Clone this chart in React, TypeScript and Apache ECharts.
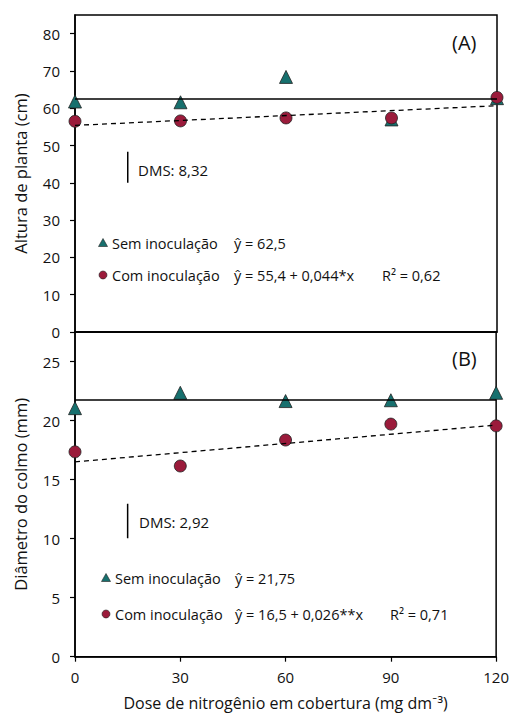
import React, { useEffect, useRef } from "react";
import * as echarts from "echarts";

const doses = [0, 30, 60, 90, 120];
const alturaSem = [61.8, 61.6, 68.4, 57.0, 62.7];
const alturaCom = [56.5, 56.6, 57.4, 57.4, 62.9];
const diamSem = [21.05, 22.35, 21.65, 21.72, 22.35];
const diamCom = [17.35, 16.15, 18.35, 19.7, 19.55];
const alturaFitSem = 62.5;
const alturaFitCom = [55.4, 0.044];
const diamFitSem = 21.75;
const diamFitCom = [16.5, 0.026];
const alturaDMS = 8.32;
const diamDMS = 2.92;
const alturaTicks = [0, 10, 20, 30, 40, 50, 60, 70, 80];
const diamTicks = [0, 5, 10, 15, 20, 25];

const TEAL = "#17706e";
const RED = "#9b1b3b";
const FONT = "'Open Sans', Lato, sans-serif";

export default function App() {
  const ref = useRef<HTMLDivElement>(null);
  useEffect(() => {
    document.body.style.margin = "0";
    document.body.style.overflow = "hidden";
    if (!ref.current) return;
    const chart = echarts.init(ref.current, undefined, { renderer: "svg" });
    const L = 75, W = 422;
    const grids = [
      { left: L, top: 15, width: W, height: 317, show: true, borderColor: "#000", borderWidth: 1.5 },
      { left: L, top: 332, width: W, height: 324.7, show: true, borderColor: "#000", borderWidth: 1.5 },
    ];
    const xAxisBase = {
      type: "value", min: 0, max: 120, interval: 30,
      splitLine: { show: false },
      axisLine: { show: true, onZero: false, lineStyle: { color: "#000", width: 1.5 } },
    };
    const yAxisBase = (max: number, ticks: number[], name: string) => ({
      type: "value", min: 0, max,
      name, nameLocation: "middle", nameGap: 46, nameRotate: 90,
      nameTextStyle: { fontSize: 16.5, color: "#111", fontFamily: FONT },
      splitLine: { show: false },
      axisLine: { show: true, onZero: false, lineStyle: { color: "#000", width: 1.5 } },
      axisTick: { show: true, length: 5, customValues: ticks, lineStyle: { color: "#000", width: 1.2 } },
      axisLabel: { customValues: ticks, fontSize: 15, color: "#111", fontFamily: FONT, margin: 15 },
    });
    const fitLine = (c: number[]) => [[0, c[0]], [120, c[0] + c[1] * 120]];
    const flat = (v: number) => [[0, v], [120, v]];
    const scatter = (data: number[], idx: number, sym: string, color: string, z: number) => ({
      type: "scatter", xAxisIndex: idx, yAxisIndex: idx,
      data: doses.map((d, i) => [d, data[i]]),
      symbol: sym, symbolSize: sym === "triangle" ? 13 : 12,
      itemStyle: { color, opacity: 1, borderColor: "#222", borderWidth: 0.8 }, z,
    });
    const line = (data: number[][], idx: number, dashed: boolean, z: number) => ({
      type: "line", xAxisIndex: idx, yAxisIndex: idx, data, showSymbol: false, symbol: "none",
      lineStyle: { color: "#000", width: dashed ? 1.3 : 1.5, type: dashed ? [5, 4] : "solid" }, z,
    });
    const dmsLine = (center: number, dms: number, idx: number) => ({
      type: "line", xAxisIndex: idx, yAxisIndex: idx, symbol: "none",
      data: [[15, center - dms / 2], [15, center + dms / 2]],
      lineStyle: { color: "#000", width: 1.5 }, z: 5,
    });
    const txt = (x: number, y: number, t: string, size = 14.5) => ({
      type: "text", x, y,
      style: { text: t, fontSize: size, fill: "#111", fontFamily: FONT, textVerticalAlign: "middle" },
    });
    const tri = (x: number, y: number) => ({
      type: "polygon", shape: { points: [[x, y - 4.5], [x + 4.5, y + 3.5], [x - 4.5, y + 3.5]] },
      style: { fill: TEAL, stroke: "#222", lineWidth: 0.6 },
    });
    const circ = (x: number, y: number) => ({
      type: "circle", shape: { cx: x, cy: y, r: 4 },
      style: { fill: RED, stroke: "#222", lineWidth: 0.6 },
    });
    chart.setOption({
      animation: false,
      grid: grids,
      xAxis: [
        { ...xAxisBase, gridIndex: 0, axisTick: { show: false }, axisLabel: { show: false } },
        {
          ...xAxisBase, gridIndex: 1,
          name: "Dose de nitrogênio em cobertura (mg dm⁻³)", nameLocation: "middle", nameGap: 38,
          nameTextStyle: { fontSize: 16, color: "#111", fontFamily: FONT },
          axisTick: { show: true, length: 5, lineStyle: { color: "#000", width: 1.2 } },
          axisLabel: { fontSize: 15, color: "#111", fontFamily: FONT, margin: 13 },
        },
      ],
      yAxis: [
        { ...yAxisBase(85, alturaTicks, "Altura de planta (cm)"), gridIndex: 0 },
        { ...yAxisBase(27.5, diamTicks, "Diâmetro do colmo (mm)"), gridIndex: 1 },
      ],
      series: [
        scatter(alturaSem, 0, "triangle", TEAL, 2),
        scatter(alturaCom, 0, "circle", RED, 3),
        line(flat(alturaFitSem), 0, false, 4),
        line(fitLine(alturaFitCom), 0, true, 4),
        dmsLine(44.16, alturaDMS, 0),
        scatter(diamSem, 1, "triangle", TEAL, 2),
        scatter(diamCom, 1, "circle", RED, 3),
        line(flat(diamFitSem), 1, false, 4),
        line(fitLine(diamFitCom), 1, true, 4),
        dmsLine(11.5, diamDMS, 1),
      ],
      graphic: [
        txt(452, 42, "(A)", 20),
        txt(452, 358, "(B)", 20),
        txt(138, 170, "DMS: 8,32", 15),
        txt(139, 522, "DMS: 2,92", 15),
        tri(103, 243), txt(112, 243, "Sem inoculação"), txt(234, 243, "ŷ = 62,5"),
        circ(103, 275), txt(112, 275, "Com inoculação"), txt(234, 275, "ŷ = 55,4 + 0,044*x"), txt(382, 275, "R² = 0,62"),
        tri(106, 578), txt(115, 578, "Sem inoculação"), txt(235, 578, "ŷ = 21,75"),
        circ(106, 614), txt(115, 614, "Com inoculação"), txt(235, 614, "ŷ = 16,5 + 0,026**x"), txt(390, 614, "R² = 0,71"),
      ],
    });
    return () => chart.dispose();
  }, []);
  return <div ref={ref} style={{ width: 512, height: 715 }} />;
}
